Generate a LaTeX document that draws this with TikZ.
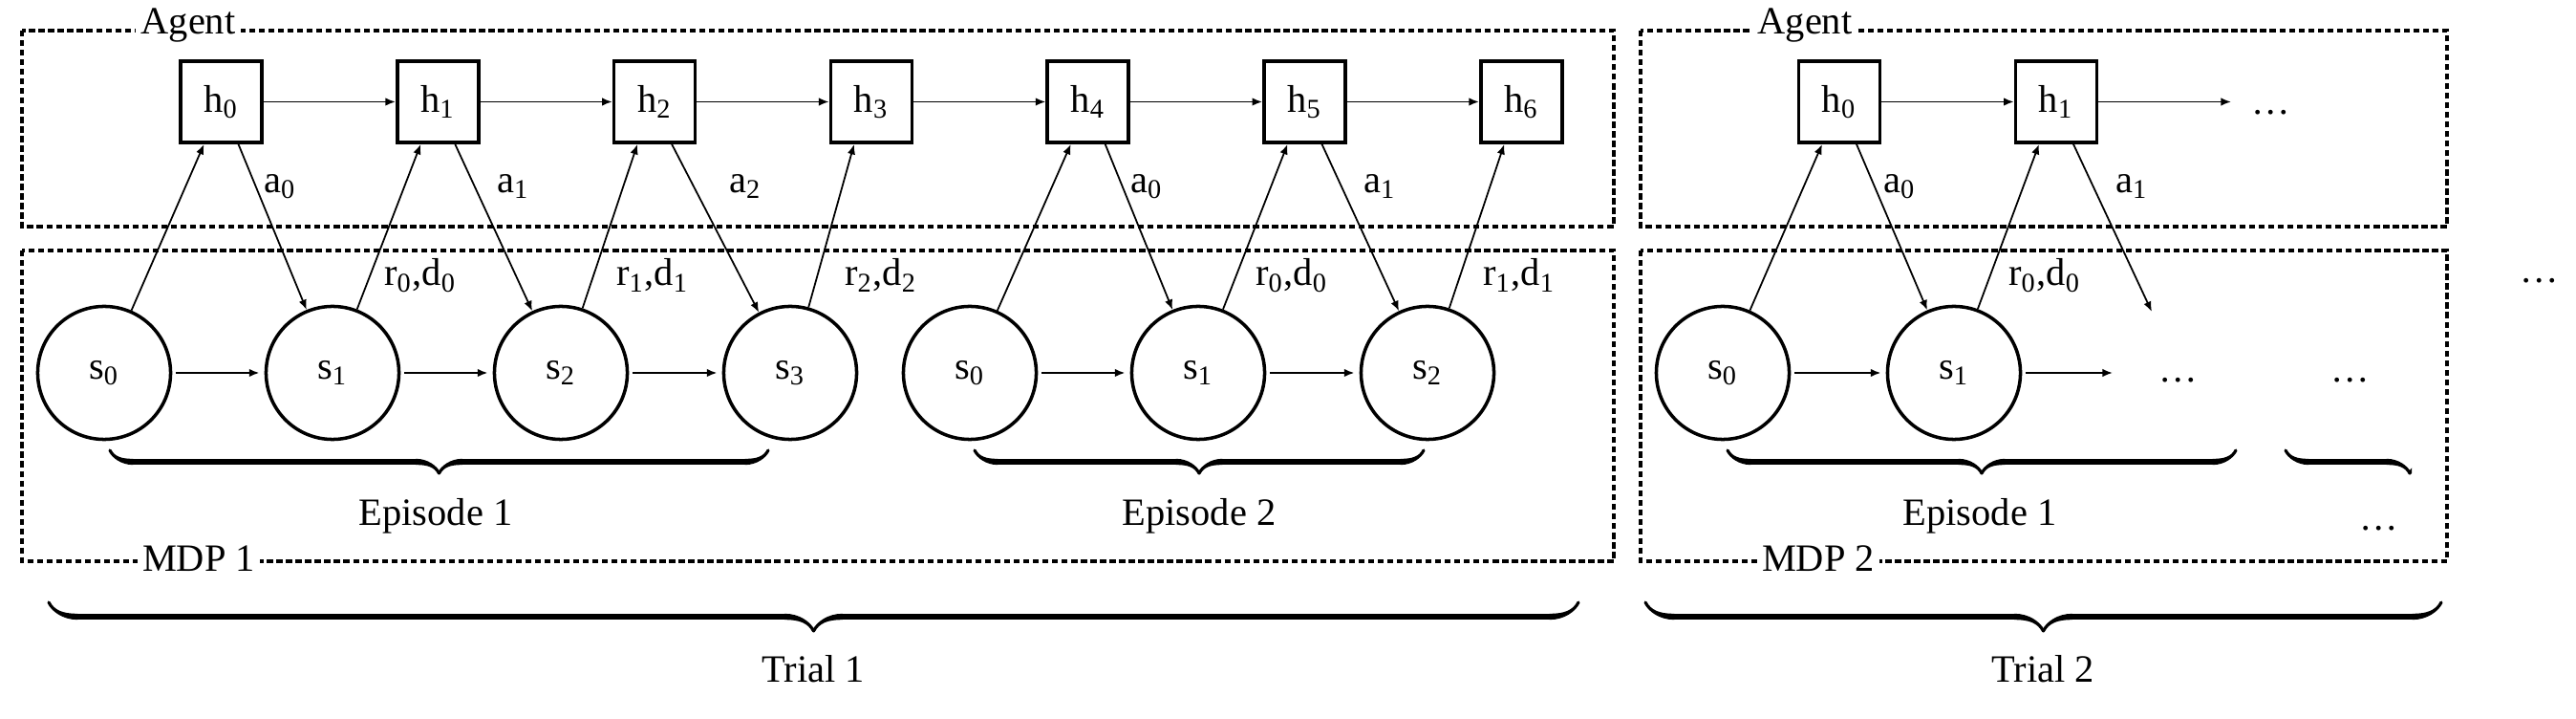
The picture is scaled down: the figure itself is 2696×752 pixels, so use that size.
\documentclass[tikz,border=0pt]{standalone}
\usepackage{fontspec}
\setmainfont{Liberation Serif}
\usetikzlibrary{arrows.meta, decorations.pathreplacing, calligraphy}

\tikzset{
    hbox/.style={draw, line width=1.05pt, minimum size=0.85cm, inner sep=0pt},
    sbox/.style={draw, circle, line width=1pt, minimum size=1.39cm, inner sep=0pt},
    arr/.style={-{Latex[length=3pt,width=2.4pt]}, line width=0.5pt},
    frame/.style={dash pattern=on 1.8pt off 1.05pt, line width=1pt},
    tag/.style={fill=white, inner sep=1.5pt, anchor=base},
    cbrace/.style={decorate, decoration={calligraphic brace, amplitude=#1}, line width=1.8pt},
}

\begin{document}
\begin{tikzpicture}[x=0.01cm, y=-0.01cm, font=\fontsize{11.5}{13}\selectfont]
    \useasboundingbox (0,0) rectangle (2696,752);

    % dashed frames
    \draw[frame] (23,32) rectangle (1689,237);
    \draw[frame] (23,262) rectangle (1689,587);
    \draw[frame] (1717,32) rectangle (2561,237);
    \draw[frame] (1717,262) rectangle (2561,587);
    \node[tag] (agentA) at (197,36) {Agent};
    \node[tag] (agentB) at (1889,36) {Agent};
    \node[tag] (mdpA) at (208,598) {MDP 1};
    \node[tag] (mdpB) at (1903,598) {MDP 2};

    % trial 1: hidden states
    \foreach \i in {0,...,6} {
        \node[hbox] (h\i) at (231.5+226.8*\i,106.5) {h\textsubscript{\i}};
    }
    \foreach \i/\j in {0/1, 1/2, 2/3, 3/4, 4/5, 5/6} {
        \draw[arr] (h\i) -- (h\j);
    }

    % trial 1: episode 1
    \foreach \i/\x in {0/109, 1/348, 2/587, 3/827} {
        \node[sbox] (s\i) at (\x,390) {s\textsubscript{\i}};
        \draw[arr] (s\i) -- ([xshift=-0.18cm]h\i.south);
    }
    \foreach \i/\j in {0/1, 1/2, 2/3} {
        \draw[arr, shorten <=1pt, shorten >=1.5pt] (s\i) -- (s\j);
        \draw[arr] ([xshift=0.18cm]h\i.south) -- (s\j);
    }

    % trial 1: episode 2
    \foreach \i/\x in {0/1015, 1/1254, 2/1494} {
        \node[sbox] (t\i) at (\x,390) {s\textsubscript{\i}};
    }
    \draw[arr, shorten <=1pt, shorten >=1.5pt] (t0) -- (t1);
    \draw[arr, shorten <=1pt, shorten >=1.5pt] (t1) -- (t2);
    \draw[arr] (t0) -- ([xshift=-0.18cm]h4.south);
    \draw[arr] ([xshift=0.18cm]h4.south) -- (t1);
    \draw[arr] (t1) -- ([xshift=-0.18cm]h5.south);
    \draw[arr] ([xshift=0.18cm]h5.south) -- (t2);
    \draw[arr] (t2) -- ([xshift=-0.18cm]h6.south);

    % trial 2
    \node[hbox] (g0) at (1925,106.5) {h\textsubscript{0}};
    \node[hbox] (g1) at (2152,106.5) {h\textsubscript{1}};
    \node[sbox] (u0) at (1803,390) {s\textsubscript{0}};
    \node[sbox] (u1) at (2045,390) {s\textsubscript{1}};
    \coordinate (gend) at (2335,106.5);
    \coordinate (uend) at (2211,390);
    \coordinate (aend) at (2252,326);
    \draw[arr] (g0) -- (g1);
    \draw[arr] (g1) -- (gend);
    \draw[arr, shorten <=1pt, shorten >=1.5pt] (u0) -- (u1);
    \draw[arr, shorten <=1pt] (u1) -- (uend);
    \draw[arr] (u0) -- ([xshift=-0.18cm]g0.south);
    \draw[arr] ([xshift=0.18cm]g0.south) -- (u1);
    \draw[arr] (u1) -- ([xshift=-0.18cm]g1.south);
    \draw[arr] ([xshift=0.18cm]g1.south) -- (aend);
    \node[anchor=base] (dotsh) at (2377,120) {\dots};
    \node[anchor=base] (dotsa) at (2280,400) {\dots};
    \node[anchor=base] (dotsb) at (2460,400) {\dots};
    \node[anchor=base] (dotsc) at (2490,555) {\dots};
    \node[anchor=base] (dotsd) at (2658,296) {\dots};

    % action labels
    \node (la0) at (293,195) {a\textsubscript{0}};
    \node (la1) at (537,195) {a\textsubscript{1}};
    \node (la2) at (780,195) {a\textsubscript{2}};
    \node (lb0) at (1200,195) {a\textsubscript{0}};
    \node (lb1) at (1444,195) {a\textsubscript{1}};
    \node (lc0) at (1988,195) {a\textsubscript{0}};
    \node (lc1) at (2231,195) {a\textsubscript{1}};

    % reward/done labels
    \node (ra0) at (440,288) {r\textsubscript{0},d\textsubscript{0}};
    \node (ra1) at (683,288) {r\textsubscript{1},d\textsubscript{1}};
    \node (ra2) at (922,288) {r\textsubscript{2},d\textsubscript{2}};
    \node (rb0) at (1352,288) {r\textsubscript{0},d\textsubscript{0}};
    \node (rb1) at (1590,288) {r\textsubscript{1},d\textsubscript{1}};
    \node (rc0) at (2140,288) {r\textsubscript{0},d\textsubscript{0}};

    % braces
    \draw[cbrace=0.24cm] (804,471) -- (115,471);
    \draw[cbrace=0.24cm] (1490,471) -- (1020,471);
    \draw[cbrace=0.24cm] (2340,471) -- (1808,471);
    \begin{scope}
        \clip (2380,440) rectangle (2524,520);
        \draw[cbrace=0.24cm] (2652,471) -- (2392,471);
    \end{scope}
    \draw[cbrace=0.3cm] (1652,630) -- (51,630);
    \draw[cbrace=0.3cm] (2555,630) -- (1722,630);

    \node (epA) at (456,540) {Episode 1};
    \node (epB) at (1255,540) {Episode 2};
    \node (epC) at (2072,540) {Episode 1};
    \node (trA) at (851,700) {Trial 1};
    \node (trB) at (2138,700) {Trial 2};
\end{tikzpicture}
\end{document}
